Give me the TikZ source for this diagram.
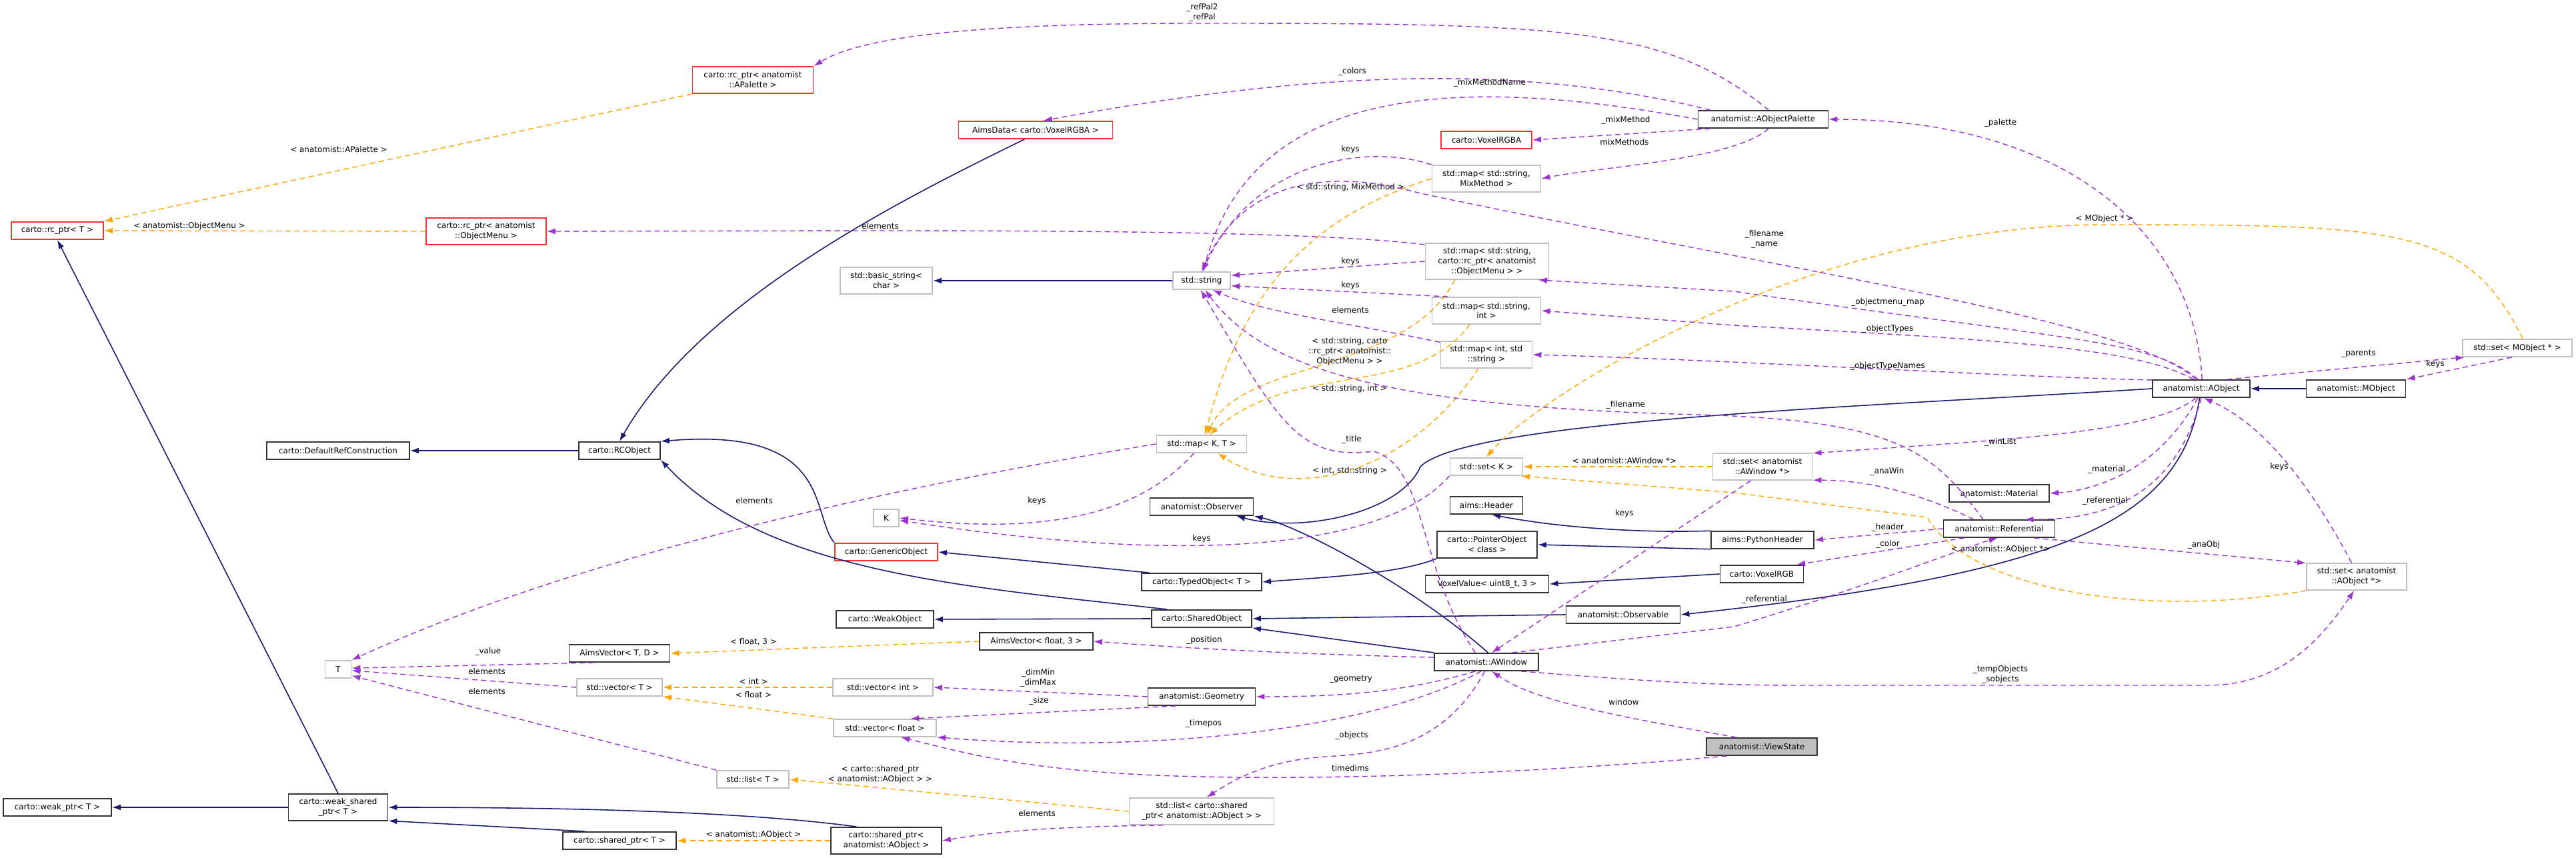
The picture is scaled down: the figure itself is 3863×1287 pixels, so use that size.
\documentclass[tikz,border=0pt]{standalone}
\usepackage{fontspec}
\setmainfont{DejaVu Sans}
\usetikzlibrary{arrows.meta}
\definecolor{navyc}{HTML}{191970}
\definecolor{purc}{HTML}{9A32CD}
\definecolor{orc}{HTML}{FFA500}
\definecolor{redc}{HTML}{FF3030}
\definecolor{gryc}{HTML}{BFBFBF}
\tikzset{
 bx/.style={draw, line width=0.55pt, align=center, inner sep=0.5pt, minimum height=0.26cm, font=\fontsize{3.4}{4.25}\selectfont},
 blk/.style={bx, draw=black!80},
 rd/.style={bx, draw=redc},
 gy/.style={bx, draw=gryc},
 lbl/.style={inner sep=0, align=center, font=\fontsize{3.4}{4.25}\selectfont},
 inh/.style={draw=navyc, line width=0.45pt, -{Latex[length=1.3mm,width=0.9mm]}},
 use/.style={draw=purc, line width=0.4pt, dash pattern=on 0.8mm off 0.55mm, -{Latex[length=1.3mm,width=0.9mm]}},
 tpl/.style={draw=orc, line width=0.4pt, dash pattern=on 0.8mm off 0.55mm, -{Latex[length=1.3mm,width=0.9mm]}},
}
\begin{document}
\begin{tikzpicture}[x=0.1mm,y=-0.1mm]
\useasboundingbox (0,0) rectangle (3863,1287);
% nodes
\node[rd, minimum width=1.38cm] (rcT) at (86,346) {carto::rc\_ptr< T >};
\node[rd, minimum width=1.81cm, minimum height=0.40cm] (rcap) at (1129,120) {carto::rc\_ptr< anatomist\\::APalette >};
\node[rd, minimum width=1.80cm, minimum height=0.40cm] (rcom) at (729,347) {carto::rc\_ptr< anatomist\\::ObjectMenu >};
\node[rd, minimum width=2.31cm] (aimsd) at (1553,195) {AimsData< carto::VoxelRGBA >};
\node[rd, minimum width=1.36cm] (vrgba) at (2229,210) {carto::VoxelRGBA};
\node[blk, minimum width=1.95cm] (aop) at (2644,179) {anatomist::AObjectPalette};
\node[gy, minimum width=1.63cm, minimum height=0.40cm] (mmix) at (2229,268) {std::map< std::string,\\MixMethod >};
\node[gy, minimum width=1.85cm, minimum height=0.54cm] (mom) at (2230,392) {std::map< std::string,\\carto::rc\_ptr< anatomist\\::ObjectMenu > >};
\node[gy, minimum width=1.38cm, minimum height=0.40cm] (bs) at (1329,421) {std::basic\_string<\\char >};
\node[gy, minimum width=0.86cm] (ss) at (1802,421) {std::string};
\node[gy, minimum width=1.63cm, minimum height=0.40cm] (msi) at (2229,466) {std::map< std::string,\\int >};
\node[gy, minimum width=1.37cm, minimum height=0.40cm] (mis) at (2229,532) {std::map< int, std\\::string >};
\node[blk, minimum width=1.46cm] (ao) at (3301,583) {anatomist::AObject};
\node[blk, minimum width=1.49cm] (mo) at (3533,583) {anatomist::MObject};
\node[gy, minimum width=1.64cm] (smo) at (3775,522) {std::set< MObject * >};
\node[blk, minimum width=2.14cm] (drc) at (507,676) {carto::DefaultRefConstruction};
\node[blk, minimum width=1.22cm] (rco) at (929,676) {carto::RCObject};
\node[rd, minimum width=1.54cm] (go) at (1329,828) {carto::GenericObject};
\node[gy, minimum width=0.39cm] (T) at (507,1004) {T};
\node[blk, minimum width=1.51cm] (avtd) at (929,980) {AimsVector< T, D >};
\node[gy, minimum width=1.28cm] (vt) at (929,1031) {std::vector< T >};
\node[gy, minimum width=1.08cm] (lt) at (1129,1169) {std::list< T >};
\node[blk, minimum width=1.62cm] (wp) at (86,1211) {carto::weak\_ptr< T >};
\node[blk, minimum width=1.49cm, minimum height=0.40cm] (ws) at (507,1211) {carto::weak\_shared\\\_ptr< T >};
\node[blk, minimum width=1.70cm] (spt) at (929,1261) {carto::shared\_ptr< T >};
\node[blk, minimum width=1.66cm, minimum height=0.40cm] (spao) at (1329,1261) {carto::shared\_ptr<\\anatomist::AObject >};
\node[gy, minimum width=1.35cm] (mkt) at (1802,666) {std::map< K, T >};
\node[gy, minimum width=1.09cm] (sk) at (2229,700) {std::set< K >};
\node[gy, minimum width=0.38cm] (K) at (1329,777) {K};
\node[blk, minimum width=1.55cm] (obs) at (1802,760) {anatomist::Observer};
\node[blk, minimum width=1.09cm] (ah) at (2229,758) {aims::Header};
\node[blk, minimum width=1.50cm, minimum height=0.40cm] (po) at (2230,817) {carto::PointerObject\\< class >};
\node[blk, minimum width=1.80cm] (tob) at (1802,873) {carto::TypedObject< T >};
\node[blk, minimum width=1.85cm] (vv) at (2230,876) {VoxelValue< uint8\_t, 3 >};
\node[blk, minimum width=1.46cm] (wo) at (1327,929) {carto::WeakObject};
\node[blk, minimum width=1.50cm] (so) at (1802,928) {carto::SharedObject};
\node[blk, minimum width=1.71cm] (obsv) at (2434,922) {anatomist::Observable};
\node[blk, minimum width=1.70cm] (avf3) at (1554,962) {AimsVector< float, 3 >};
\node[blk, minimum width=1.56cm] (aw) at (2229,993) {anatomist::AWindow};
\node[gy, minimum width=1.50cm] (vi) at (1324,1031) {std::vector< int >};
\node[blk, minimum width=1.61cm] (geo) at (1802,1045) {anatomist::Geometry};
\node[gy, minimum width=1.54cm] (vf) at (1327,1092) {std::vector< float >};
\node[blk, fill=gryc, minimum width=1.66cm] (vs) at (2642,1120) {anatomist::ViewState};
\node[gy, minimum width=2.17cm, minimum height=0.40cm] (ls) at (1802,1217) {std::list< carto::shared\\\_ptr< anatomist::AObject > >};
\node[gy, minimum width=1.49cm, minimum height=0.40cm] (saw) at (2643,700) {std::set< anatomist\\::AWindow *>};
\node[blk, minimum width=1.50cm] (mat) at (2998,740) {anatomist::Material};
\node[blk, minimum width=1.67cm] (ref) at (2998,793) {anatomist::Referential};
\node[blk, minimum width=1.54cm] (ph) at (2643,810) {aims::PythonHeader};
\node[blk, minimum width=1.25cm] (vrgb) at (2642,861) {carto::VoxelRGB};
\node[gy, minimum width=1.50cm, minimum height=0.40cm] (sao) at (3534,865) {std::set< anatomist\\::AObject *>};

% inheritance
\draw[inh] (ws.north) -- (rcT.south);
\draw[inh] (ws.west) -- (wp.east);
\draw[inh] (spt.165) -- (ws.-15);
\draw[inh] (spao.155) .. controls (1100,1215) and (800,1211) .. (ws.east);
\draw[inh] (rco.west) -- (drc.east);
\draw[inh] (aimsd.-140) .. controls (1350,300) and (1050,450) .. (rco.north);
\draw[inh] (go.north west) .. controls (1215,770) and (1250,640) .. (rco.north east);
\draw[inh] (so.165) .. controls (1450,880) and (1150,860) .. (rco.south east);
\draw[inh] (ss.west) -- (bs.east);
\draw[inh] (tob.170) -- (go.east);
\draw[inh] (po.south west) .. controls (2100,860) and (2000,865) .. (tob.east);
\draw[inh] (ph.170) .. controls (2450,800) and (2330,790) .. (ah.-60);
\draw[inh] (ph.-170) -- (po.east);
\draw[inh] (vrgb.west) -- (vv.east);
\draw[inh] (so.west) -- (wo.east);
\draw[inh] (obsv.west) -- (so.east);
\draw[inh] (aw.north west) -- (so.south east);
\draw[inh] (aw.80) .. controls (2120,880) and (1950,790) .. (obs.south east);
\draw[inh] (ao.west) .. controls (2800,610) and (2200,630) .. (2130,700) .. controls (2100,770) and (1950,800) .. (obs.-15);
\draw[inh] (ao.-100) .. controls (3270,780) and (3100,860) .. (obsv.east);
\draw[inh] (mo.west) -- (ao.east);

% template
\draw[tpl] (rcap.south west) -- (rcT.north east);
\draw[tpl] (rcom.west) -- (rcT.east);
\node[lbl] at (508,224) {< anatomist::APalette >};
\node[lbl] at (284,339) {< anatomist::ObjectMenu >};
\draw[tpl] (avf3.west) -- (avtd.east);
\node[lbl] at (1130,963) {< float, 3 >};
\draw[tpl] (vi.west) -- (vt.east);
\node[lbl] at (1130,1022) {< int >};
\draw[tpl] (vf.north west) -- (vt.south east);
\node[lbl] at (1130,1042) {< float >};
\draw[tpl] (ls.west) -- (lt.east);
\node[lbl] at (1320,1162) {< carto::shared\_ptr\\< anatomist::AObject > >};
\draw[tpl] (spao.west) -- (spt.east);
\node[lbl] at (1130,1252) {< anatomist::AObject >};
\draw[tpl] (mmix.west) .. controls (1950,330) and (1860,450) .. (mkt.70);
\node[lbl] at (2025,281) {< std::string, MixMethod >};
\draw[tpl] (mom.-150) .. controls (2110,560) and (1860,540) .. (mkt.60);
\node[lbl] at (2024,527) {< std::string, carto\\::rc\_ptr< anatomist::\\ObjectMenu > >};
\draw[tpl] (msi.-140) .. controls (2120,600) and (1940,540) .. (mkt.50);
\node[lbl] at (2024,583) {< std::string, int >};
\draw[tpl] (mis.-120) .. controls (2120,700) and (1950,760) .. (mkt.-30);
\node[lbl] at (2024,706) {< int, std::string >};
\draw[tpl] (saw.west) -- (sk.east);
\node[lbl] at (2436,691) {< anatomist::AWindow *>};
\draw[tpl] (sao.south west) .. controls (3200,930) and (2950,880) .. (2890,776) -- (2600,739) -- (sk.-15);
\node[lbl] at (3000,824) {< anatomist::AObject *>};
\draw[tpl] (smo.60) .. controls (3700,340) and (3600,337) .. (3150,337) .. controls (2700,340) and (2300,600) .. (sk.north);
\node[lbl] at (3156,328) {< MObject * >};

% usage
\draw[use] (aop.60) .. controls (2500,40) and (2350,35) .. (1800,35) .. controls (1500,35) and (1300,50) .. (rcap.north east);
\node[lbl] at (1803,19) {\_refPal2\\\_refPal};
\draw[use] (aop.170) .. controls (2300,100) and (2000,100) .. (aimsd.50);
\node[lbl] at (2028,107) {\_colors};
\draw[use] (aop.west) .. controls (2200,115) and (1880,120) .. (ss.80);
\node[lbl] at (2234,124) {\_mixMethodName};
\draw[use] (aop.-170) -- (vrgba.east);
\node[lbl] at (2438,180) {\_mixMethod};
\draw[use] (aop.-60) .. controls (2600,240) and (2400,250) .. (mmix.east);
\node[lbl] at (2436,213) {mixMethods};
\draw[use] (mmix.north west) .. controls (2050,215) and (1880,240) .. (ss.85);
\node[lbl] at (2025,224) {keys};
\draw[use] (ao.120) .. controls (3200,480) and (2650,400) .. (2130,290) .. controls (1950,240) and (1850,300) .. (ss.90);
\node[lbl] at (2646,359) {\_filename\\\_name};
\draw[use] (mom.165) .. controls (2000,350) and (1700,346) .. (1300,346) -- (rcom.east);
\node[lbl] at (1320,339) {elements};
\draw[use] (mom.west) -- (ss.10);
\node[lbl] at (2025,392) {keys};
\draw[use] (msi.160) -- (ss.-10);
\node[lbl] at (2025,428) {keys};
\draw[use] (mis.165) .. controls (2000,480) and (1900,470) .. (ss.-40);
\node[lbl] at (2025,465) {elements};
\draw[use] (ao.85) .. controls (3290,350) and (3100,180) .. (aop.east);
\node[lbl] at (3000,184) {\_palette};
\draw[use] (ao.110) .. controls (3230,510) and (3100,510) .. (2600,437) -- (mom.-20);
\node[lbl] at (2831,453) {\_objectmenu\_map};
\draw[use] (ao.130) .. controls (3200,520) and (3000,510) .. (2600,488) -- (msi.east);
\node[lbl] at (2831,493) {\_objectTypes};
\draw[use] (ao.170) .. controls (3000,565) and (2600,540) .. (mis.east);
\node[lbl] at (2831,549) {\_objectTypeNames};
\draw[use] (ao.20) -- (smo.-170);
\node[lbl] at (3537,531) {\_parents};
\draw[use] (smo.-120) -- (mo.north east);
\node[lbl] at (3652,546) {keys};
\draw[use] (ao.-120) .. controls (3230,650) and (3000,660) .. (saw.15);
\node[lbl] at (3000,663) {\_winList};
\draw[use] (ao.-110) .. controls (3240,700) and (3150,735) .. (mat.east);
\node[lbl] at (3159,704) {\_material};
\draw[use] (ao.-90) .. controls (3260,750) and (3150,780) .. (ref.20);
\node[lbl] at (3157,751) {\_referential};
\draw[use] (ref.150) .. controls (2900,680) and (2850,630) .. (2544,622) .. controls (2100,610) and (1900,560) .. (ss.-70);
\node[lbl] at (2438,607) {\_filename};
\draw[use] (ref.160) .. controls (2880,740) and (2800,720) .. (saw.-15);
\node[lbl] at (2830,707) {\_anaWin};
\draw[use] (ref.west) -- (ph.east);
\node[lbl] at (2831,791) {\_header};
\draw[use] (ref.-165) -- (vrgb.15);
\node[lbl] at (2831,816) {\_color};
\draw[use] (ref.-15) -- (sao.165);
\node[lbl] at (3305,817) {\_anaObj};
\draw[use] (sao.110) .. controls (3450,700) and (3380,630) .. (ao.-75);
\node[lbl] at (3418,700) {keys};
\draw[use] (aw.20) -- (2600,940) .. controls (2800,880) and (2950,820) .. (ref.-100);
\node[lbl] at (2646,899) {\_referential};
\draw[use] (aw.-15) .. controls (2450,1020) and (2550,1028) .. (2700,1028) -- (3310,1028) .. controls (3420,1028) and (3480,960) .. (sao.-100);
\node[lbl] at (3000,1012) {\_tempObjects\\\_sobjects};
\draw[use] (aw.140) .. controls (2125,850) and (2140,700) .. (2060,677) .. controls (1950,690) and (1920,640) .. (ss.-95);
\node[lbl] at (2027,659) {\_title};
\draw[use] (saw.-130) -- (aw.60);
\node[lbl] at (2436,770) {keys};
\draw[use] (aw.175) .. controls (1900,980) and (1750,970) .. (avf3.east);
\node[lbl] at (1806,960) {\_position};
\draw[use] (aw.-140) .. controls (2100,1040) and (2000,1045) .. (geo.east);
\node[lbl] at (2026,1019) {\_geometry};
\draw[use] (geo.west) -- (vi.east);
\node[lbl] at (1557,1017) {\_dimMin\\\_dimMax};
\draw[use] (geo.-160) -- (vf.20);
\node[lbl] at (1558,1051) {\_size};
\draw[use] (aw.-120) .. controls (2050,1100) and (1700,1130) .. (vf.-10);
\node[lbl] at (1805,1085) {\_timepos};
\draw[use] (aw.-100) .. controls (2160,1130) and (2050,1130) .. (1990,1135) .. controls (1900,1140) and (1850,1170) .. (ls.70);
\node[lbl] at (2027,1103) {\_objects};
\draw[use] (vs.160) .. controls (2400,1070) and (2300,1050) .. (aw.-60);
\node[lbl] at (2435,1053) {window};
\draw[use] (vs.-165) .. controls (2300,1160) and (2000,1170) .. (1800,1165) .. controls (1550,1160) and (1450,1130) .. (vf.-30);
\node[lbl] at (2025,1152) {timedims};
\draw[use] (ls.-160) .. controls (1550,1240) and (1480,1250) .. (spao.east);
\node[lbl] at (1555,1220) {elements};
\draw[use] (avtd.-160) -- (T.5);
\node[lbl] at (732,977) {\_value};
\draw[use] (vt.west) -- (T.-5);
\node[lbl] at (730,1007) {elements};
\draw[use] (lt.north west) -- (T.-25);
\node[lbl] at (730,1037) {elements};
\draw[use] (mkt.west) .. controls (1400,720) and (900,820) .. (T.north east);
\node[lbl] at (1131,751) {elements};
\draw[use] (mkt.-130) .. controls (1700,780) and (1550,800) .. (K.east);
\node[lbl] at (1555,751) {keys};
\draw[use] (sk.south west) .. controls (2080,820) and (1800,850) .. (K.-10);
\node[lbl] at (1802,808) {keys};
\end{tikzpicture}
\end{document}
